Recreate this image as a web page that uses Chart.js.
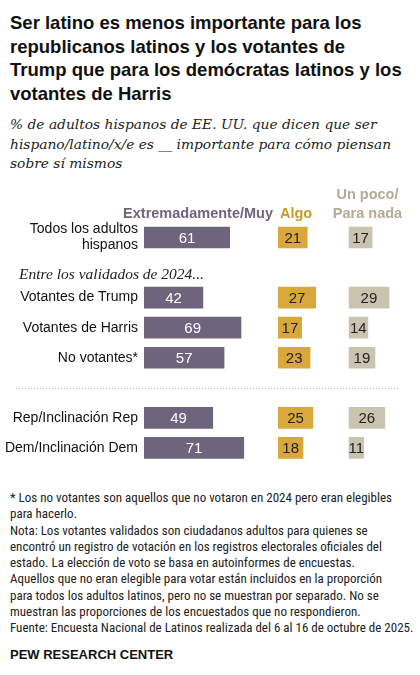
<!DOCTYPE html>
<html>
<head>
<meta charset="utf-8">
<script src="https://cdn.jsdelivr.net/npm/chart.js@4.4.1/dist/chart.umd.min.js"></script>
<style>
  html, body { margin: 0; padding: 0; background: #fff; }
  body { width: 420px; height: 675px; position: relative; overflow: hidden; color: #000; }
  #title {
    position: absolute; left: 10px; top: 11px; width: 410px;
    font: bold 18.5px "Liberation Sans", Arial, sans-serif; line-height: 23.5px;
    white-space: nowrap; color: #111;
  }
  #subtitle {
    position: absolute; left: 10px; top: 115px; width: 410px;
    font: italic 13.8px "DejaVu Serif", "Liberation Serif", serif; line-height: 19.5px;
    white-space: nowrap; color: #222;
  }
  #chartWrap { position: absolute; left: 0; top: 185px; width: 420px; height: 300px; }
  #notes {
    position: absolute; left: 10px; top: 490px; width: 410px;
    font: 13px "Liberation Sans Narrow", "Roboto Condensed", "Liberation Sans", sans-serif;
    line-height: 16.25px; white-space: nowrap; color: #222;
  }
  #source {
    position: absolute; left: 10px; top: 647px;
    font: bold 13px "Liberation Sans", Arial, sans-serif; color: #111;
  }
</style>
</head>
<body>
<div id="title">Ser latino es menos importante para los<br>republicanos latinos y los votantes de<br>Trump que para los demócratas latinos y los<br>votantes de Harris</div>
<div id="subtitle">% de adultos hispanos de EE. UU. que dicen que ser<br>hispano/latino/x/e es __ importante para cómo piensan<br>sobre sí mismos</div>
<div id="chartWrap"><canvas id="chart" width="420" height="300"></canvas></div>
<div id="notes">* Los no votantes son aquellos que no votaron en 2024 pero eran elegibles<br>para hacerlo.<br>Nota: Los votantes validados son ciudadanos adultos para quienes se<br>encontró un registro de votación en los registros electorales oficiales del<br>estado. La elección de voto se basa en autoinformes de encuestas.<br>Aquellos que no eran elegible para votar están incluidos en la proporción<br>para todos los adultos latinos, pero no se muestran por separado. No se<br>muestran las proporciones de los encuestados que no respondieron.<br>Fuente: Encuesta Nacional de Latinos realizada del 6 al 16 de octubre de 2025.</div>
<div id="source">PEW RESEARCH CENTER</div>

<script>
// Data
const categories = [
  ["Todos los adultos", "hispanos"],
  "Entre los validados de 2024...",
  "Votantes de Trump",
  "Votantes de Harris",
  "No votantes*",
  "",
  "Rep/Inclinación Rep",
  "Dem/Inclinación Dem"
];
const seriesNames = ["Extremadamente/Muy", "Algo", ["Un poco/", "Para nada"]];
const muy  = [61, null, 42, 69, 57, null, 49, 71];
const algo = [21, null, 27, 17, 23, null, 25, 18];
const poco = [17, null, 29, 14, 19, null, 26, 11];

const SECTION_ROW = 1;   // italic section label
const DIVIDER_ROW = 5;   // dotted separator

const PURPLE = "#6e657d";
const GOLD = "#d8a93a";
const BEIGE = "#c9c3b0";
const sans = '"Liberation Sans", Arial, sans-serif';

// value labels inside bars
const valueLabels = {
  id: "valueLabels",
  afterDatasetsDraw(chart) {
    const ctx = chart.ctx;
    ctx.save();
    ctx.font = "15px " + sans;
    ctx.textAlign = "center";
    ctx.textBaseline = "middle";
    chart.data.datasets.forEach((ds, i) => {
      const meta = chart.getDatasetMeta(i);
      meta.data.forEach((bar, j) => {
        const v = ds.data[j];
        if (v == null) return;
        ctx.fillStyle = i === 0 ? "#fff" : "#222";
        ctx.fillText(String(v), (bar.x + bar.base) / 2, bar.y + 1);
      });
    });
    ctx.restore();
  }
};

// column headers, section label and divider
const extras = {
  id: "extras",
  afterDraw(chart) {
    const ctx = chart.ctx;
    const { x1, x2, x3, y } = chart.scales;
    const top = chart.chartArea.top;
    ctx.save();
    ctx.font = "bold 14.5px " + sans;
    ctx.textBaseline = "alphabetic";

    ctx.fillStyle = PURPLE;
    ctx.textAlign = "right";
    ctx.fillText(seriesNames[0], x1.right - 5, top - 5);

    ctx.fillStyle = "#c99b22";
    ctx.textAlign = "left";
    ctx.fillText(seriesNames[1], x2.left + 2, top - 5);

    ctx.fillStyle = "#b3ab94";
    ctx.textAlign = "center";
    ctx.fillText(seriesNames[2][0], x3.left + 19, top - 24);
    ctx.fillText(seriesNames[2][1], x3.left + 19, top - 5);

    // italic section label
    ctx.fillStyle = "#222";
    ctx.textAlign = "left";
    ctx.textBaseline = "middle";
    ctx.font = 'italic 15.5px "Liberation Serif", "DejaVu Serif", serif';
    ctx.fillText(categories[SECTION_ROW], 19, y.getPixelForValue(SECTION_ROW) + 7);

    // dotted divider
    const dy = Math.round(y.getPixelForValue(DIVIDER_ROW)) + 0.5;
    ctx.strokeStyle = "#b5b5b5";
    ctx.lineWidth = 1;
    ctx.setLineDash([1, 2]);
    ctx.beginPath();
    ctx.moveTo(16, dy);
    ctx.lineTo(398, dy);
    ctx.stroke();
    ctx.restore();
  }
};

const hiddenX = (max, weight) => ({
  type: "linear",
  position: "bottom",
  stack: "cols",
  stackWeight: weight,
  min: 0,
  max: max,
  display: false
});

new Chart(document.getElementById("chart"), {
  type: "bar",
  data: {
    labels: categories,
    datasets: [
      { label: "Extremadamente/Muy", data: muy, xAxisID: "x1", backgroundColor: PURPLE },
      { label: "Algo", data: algo, xAxisID: "x2", backgroundColor: GOLD },
      { label: "Un poco/Para nada", data: poco, xAxisID: "x3", backgroundColor: BEIGE }
    ]
  },
  options: {
    indexAxis: "y",
    responsive: false,
    animation: false,
    events: [],
    layout: { padding: { top: 37.5, bottom: 5.5, left: 0, right: 1 } },
    datasets: {
      bar: { grouped: false, barPercentage: 0.72, categoryPercentage: 1 }
    },
    plugins: {
      legend: { display: false },
      tooltip: { enabled: false }
    },
    scales: {
      y: {
        type: "category",
        grid: { display: false, drawTicks: false },
        border: { display: false },
        afterFit: (scale) => { scale.width = 144; },
        ticks: {
          autoSkip: false,
          padding: 6,
          color: "#111",
          font: { family: sans, size: 14, lineHeight: 1.15 },
          callback: (val, i) => (i === SECTION_ROW ? "" : categories[i])
        }
      },
      x1: hiddenX(95, 95),
      x2: hiddenX(50, 50),
      x3: hiddenX(50, 50)
    }
  },
  plugins: [valueLabels, extras]
});
</script>
</body>
</html>
